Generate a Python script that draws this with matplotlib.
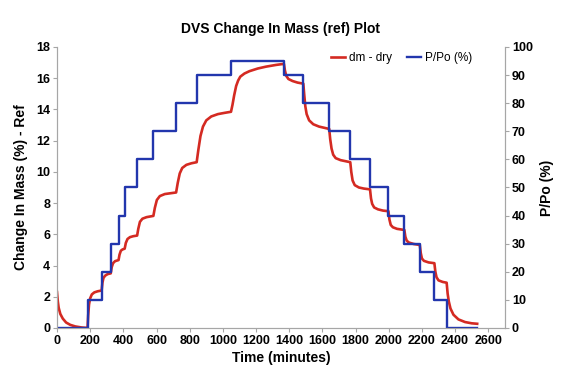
import matplotlib
matplotlib.use('Agg')
import matplotlib.pyplot as plt

plt.rcParams['font.family'] = ['Liberation Sans', 'DejaVu Sans']

# ---- Data ----
# P/Po step programme: change times (min) and humidity level held after each change
step_times = [0, 184, 269, 324, 371, 408, 483, 581, 718, 842, 1049, 1368,
              1485, 1641, 1768, 1887, 1998, 2094, 2187, 2275, 2349, 2533]
ppo_levels = [0, 10, 20, 30, 40, 50, 60, 70, 80, 90, 95, 90,
              80, 70, 60, 50, 40, 30, 20, 10, 0, 0]

# Change in mass (dm - dry), %
dm_time = [0, 5, 10, 20, 35, 55, 80, 110, 150, 184,
           188, 193, 200, 210, 225, 245, 269,
           274, 280, 290, 305, 324,
           330, 338, 350, 371,
           377, 385, 395, 408,
           415, 425, 440, 460, 483,
           490, 500, 515, 540, 581,
           590, 602, 620, 650, 718,
           728, 740, 755, 780, 810, 842,
           852, 865, 880, 900, 930, 970, 1010, 1049,
           1058, 1068, 1080, 1092, 1105, 1130, 1160, 1210, 1260, 1320, 1368,
           1374, 1382, 1395, 1420, 1450, 1485,
           1490, 1497, 1505, 1520, 1545, 1580, 1641,
           1647, 1655, 1665, 1680, 1710, 1768,
           1774, 1782, 1795, 1820, 1850, 1887,
           1893, 1900, 1912, 1935, 1965, 1998,
           2004, 2012, 2025, 2050, 2094,
           2100, 2108, 2120, 2150, 2187,
           2193, 2200, 2212, 2240, 2275,
           2281, 2288, 2300, 2325, 2349,
           2355, 2362, 2372, 2390, 2420, 2460, 2500, 2533]
dm_value = [2.3, 1.7, 1.3, 0.9, 0.6, 0.35, 0.2, 0.1, 0.03, 0.0,
            0.8, 1.5, 1.9, 2.15, 2.28, 2.35, 2.4,
            2.9, 3.2, 3.35, 3.45, 3.5,
            3.9, 4.15, 4.28, 4.35,
            4.7, 4.95, 5.03, 5.08,
            5.45, 5.7, 5.82, 5.88, 5.92,
            6.35, 6.8, 7.0, 7.1, 7.18,
            7.7, 8.2, 8.45, 8.58, 8.68,
            9.3, 9.9, 10.25, 10.45, 10.55, 10.62,
            11.4, 12.3, 12.9, 13.3, 13.55, 13.7, 13.78, 13.85,
            14.3, 14.9, 15.5, 15.85, 16.1, 16.3, 16.45, 16.62, 16.74, 16.85, 16.92,
            16.5, 16.15, 15.95, 15.82, 15.72, 15.65,
            15.0, 14.2, 13.7, 13.3, 13.05, 12.9, 12.75,
            12.1, 11.5, 11.1, 10.88, 10.75, 10.62,
            10.0, 9.45, 9.15, 9.0, 8.93, 8.88,
            8.3, 7.95, 7.72, 7.6, 7.52, 7.48,
            6.95, 6.6, 6.45, 6.35, 6.28,
            5.85, 5.6, 5.48, 5.38, 5.32,
            4.8, 4.45, 4.3, 4.2, 4.15,
            3.6, 3.25, 3.05, 2.95, 2.9,
            2.2, 1.7, 1.25, 0.85, 0.55, 0.38, 0.3, 0.27]

x_ticks = list(range(0, 2601, 200))
left_ticks = list(range(0, 19, 2))
right_ticks = list(range(0, 101, 10))

C_RED = '#d42a22'
C_BLUE = '#2236ad'
C_AXIS = '#a6a6a6'

fig = plt.figure(figsize=(5.66, 3.82), dpi=100)
ax = fig.add_axes([0.1007, 0.1414, 0.7913, 0.7356])
ax2 = ax.twinx()

ax.plot(dm_time, dm_value, color=C_RED, lw=1.9, label='dm - dry')
ax2.plot(step_times, ppo_levels, color=C_BLUE, lw=1.7, drawstyle='steps-post',
         label='P/Po (%)')

ax.set_xlim(0, 2700)
ax.set_ylim(0, 18)
ax2.set_ylim(0, 100)
ax.set_xticks(x_ticks)
ax.set_yticks(left_ticks)
ax2.set_yticks(right_ticks)

for a in (ax, ax2):
    a.spines['top'].set_visible(False)
    for s in ('left', 'right', 'bottom'):
        a.spines[s].set_color(C_AXIS)
        a.spines[s].set_linewidth(0.8)
    a.tick_params(colors=C_AXIS, labelcolor='black', length=3, width=0.8,
                  labelsize=9, pad=2)
    for lab in a.get_xticklabels() + a.get_yticklabels():
        lab.set_fontweight('bold')

ax.set_xlabel('Time (minutes)', fontsize=10, fontweight='bold', labelpad=3)
ax.set_ylabel('Change In Mass (%) - Ref', fontsize=10, fontweight='bold', labelpad=6)
ax2.set_ylabel('P/Po (%)', fontsize=10, fontweight='bold', labelpad=5)
ax.set_title('DVS Change In Mass (ref) Plot', fontsize=10, fontweight='bold', pad=10)

h1, l1 = ax.get_legend_handles_labels()
h2, l2 = ax2.get_legend_handles_labels()
ax2.legend(h1 + h2, l1 + l2, loc='upper right', bbox_to_anchor=(0.95, 1.02),
           ncol=2, frameon=False, fontsize=8.5, handlelength=1.2,
           handletextpad=0.3, columnspacing=1.3)

fig.savefig('out.png', dpi=100, facecolor='white')
